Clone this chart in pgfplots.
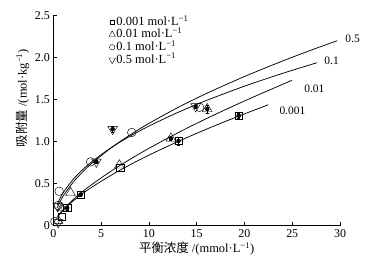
\documentclass[border=0pt]{standalone}
\usepackage{pgfplots}
\pgfplotsset{compat=1.18}
\usepackage{fontspec}
\setmainfont{Liberation Serif}
\newfontfamily\cjk{Noto Sans CJK SC}
\newcommand{\mi}{\textsuperscript{\char"2212 1}}
\begin{document}
\begin{tikzpicture}
\useasboundingbox (-53.4bp,-41.3bp) rectangle (321.6bp,225.7bp);
\begin{axis}[
  at={(0,0)}, anchor=south west,
  scale only axis, width=286.6bp, height=210bp,
  xmin=0, xmax=30, ymin=0, ymax=2.5,
  axis lines=left, axis line style={-, line width=0.6pt},
  tick align=inside, tick style={black, line width=0.6pt}, major tick length=3.5bp,
  xtick={0,5,...,30}, ytick={0,0.5,1,1.5,2,2.5},
  yticklabels={0,0.5,1.0,1.5,2.0,2.5},
  /pgf/number format/assume math mode=true,
  tick label style={font=\fontsize{12}{12}\selectfont},
  xlabel={{\cjk 平衡浓度} /(mmol·L\mi)},
  ylabel={{\cjk 吸附量} /(mol·kg\mi)},
  label style={font=\fontsize{12.5}{13}\selectfont},
  xlabel style={yshift=2bp},
  ylabel style={at={(axis description cs:-0.072,0.608)}, anchor=south},
  clip=false,
  legend style={at={(rel axis cs:0.193,1.0)}, anchor=north west, draw=none, fill=none,
    row sep=0.3bp, inner sep=0pt,
    /tikz/every even column/.append style={column sep=2.5bp},
    nodes={font=\fontsize{12.5}{12}\selectfont, inner sep=1bp, text height=8.5bp, text depth=1.8bp}},
  legend cell align=left,
  legend image code/.code={\draw[#1] plot coordinates {(0.1cm,0cm)};},
  every axis plot/.append style={line width=0.45pt},
]
% data points
\addplot[only marks, mark=square, mark size=3.6pt, black,
  legend image post style={mark size=2.3pt, line width=0.35pt}] coordinates {
 (0.9,0.11) (1.45,0.21) (2.85,0.37) (7.0,0.69) (13.1,1.01) (19.4,1.31)};
\addlegendentry{0.001 mol·L\mi}
\addplot[only marks, mark=triangle, mark size=5.6pt, black,
  legend image post style={mark size=3.8pt, line width=0.4pt}] coordinates {
 (0.5,0.06) (0.9,0.21) (1.8,0.39) (6.9,0.72) (12.3,1.04) (16.1,1.39)};
\addlegendentry{0.01 mol·L\mi}
\addplot[only marks, mark=o, mark size=4.3pt, black,
  legend image post style={mark size=2.7pt, line width=0.4pt}] coordinates {
 (0.15,0.05) (0.6,0.41) (0.5,0.24) (3.9,0.76) (8.2,1.11) (15.3,1.41)};
\addlegendentry{0.1 mol·L\mi}
\addplot[only marks, mark=triangle, mark options={rotate=180}, mark size=5.6pt, black,
  legend image post style={mark size=3.8pt, line width=0.4pt}] coordinates {
 (0.5,0.04) (0.45,0.23) (4.5,0.76) (6.2,1.15) (14.9,1.42)};
\addlegendentry{0.5 mol·L\mi}
% error bars (no legend)
\addplot[forget plot, only marks, mark=none, black,
  error bars/.cd, y dir=both, y explicit,
  error bar style={line width=0.3pt},
  error mark options={rotate=90, mark size=1.5pt, line width=0.3pt}] coordinates {
 (1.45,0.21) +- (0,0.02) (2.85,0.37) +- (0,0.02) (13.1,1.01) +- (0,0.05)
 (19.4,1.31) +- (0,0.03) (12.3,1.04) +- (0,0.02) (16.1,1.39) +- (0,0.05)
 (4.5,0.76) +- (0,0.02) (6.2,1.15) +- (0,0.04) (14.9,1.42) +- (0,0.02)};
% fitted curves
\addplot[black, line width=0.75pt, smooth, forget plot] coordinates {
 (0.4,0.212) (0.5,0.239) (1,0.349) (2,0.508) (3,0.633) (4,0.740) (6,0.923) (8,1.079)
 (10,1.218) (13,1.405) (16,1.573) (20,1.776) (24,1.961) (27,2.091) (29.7,2.202)};
\addplot[black, line width=0.75pt, smooth, forget plot] coordinates {
 (0.4,0.249) (0.5,0.277) (1,0.388) (2,0.543) (3,0.661) (4,0.760) (6,0.926) (8,1.064)
 (10,1.186) (13,1.347) (16,1.490) (20,1.661) (24,1.814) (27.57,1.94)};
\addplot[black, line width=0.75pt, smooth, forget plot] coordinates {
 (0.5,0.117) (1,0.188) (2,0.303) (3,0.401) (4,0.489) (6,0.647) (8,0.789)
 (10,0.921) (13,1.104) (16,1.274) (20,1.485) (24.95,1.73)};
\addplot[black, line width=0.75pt, smooth, forget plot] coordinates {
 (0.5,0.115) (1,0.182) (2,0.288) (3,0.378) (4,0.457) (6,0.598) (8,0.724)
 (10,0.840) (13,1.000) (16,1.148) (19,1.287) (22.5,1.44)};
\node[anchor=west, font=\fontsize{11.5}{12}\selectfont] at (axis cs:30.2,2.22) {0.5};
\node[anchor=west, font=\fontsize{11.5}{12}\selectfont] at (axis cs:28.0,1.96) {0.1};
\node[anchor=west, font=\fontsize{11.5}{12}\selectfont] at (axis cs:25.9,1.63) {0.01};
\node[anchor=west, font=\fontsize{11.5}{12}\selectfont] at (axis cs:23.3,1.37) {0.001};
\end{axis}
\end{tikzpicture}
\end{document}
